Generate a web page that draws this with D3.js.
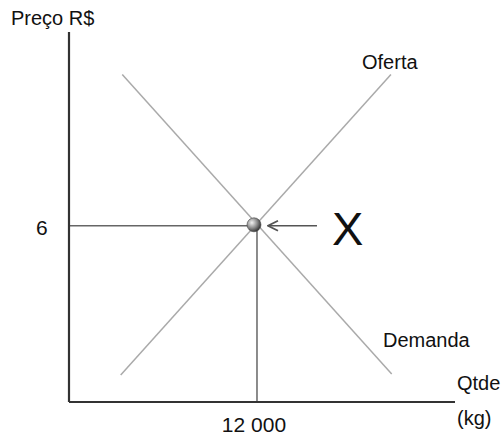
<!DOCTYPE html>
<html>
<head>
<meta charset="utf-8">
<script src="https://cdn.jsdelivr.net/npm/d3@7"></script>
<style>
  body { margin: 0; background: #fff; }
  text { font-family: "Liberation Sans", Arial, sans-serif; fill: #111; }
</style>
</head>
<body>
<svg width="504" height="436"></svg>
<script>
// curve end points, [quantity, price]
const oferta = [[3300, 0.92], [20550, 11.15]];
const demanda = [[3400, 11.15], [20600, 0.95]];
const equilibrio = { q: 12000, p: 6 };
const xTickLabels = ['12 000'];
const yTickLabels = ['6'];

const svg = d3.select('svg');

const x = d3.scaleLinear().domain([0, 24640]).range([69, 455]);
const y = d3.scaleLinear().domain([0, 12.6]).range([402, 32]);

const line = d3.line().x(d => x(d[0])).y(d => y(d[1]));

// gradient for the little ball
const defs = svg.append('defs');
const grad = defs.append('radialGradient').attr('id', 'ball')
  .attr('cx', '35%').attr('cy', '35%').attr('r', '65%');
grad.append('stop').attr('offset', '0%').attr('stop-color', '#f2f2f2');
grad.append('stop').attr('offset', '60%').attr('stop-color', '#8a8a8a');
grad.append('stop').attr('offset', '100%').attr('stop-color', '#3c3c3c');

defs.append('marker').attr('id', 'head')
  .attr('viewBox', '0 0 12 12').attr('refX', 11).attr('refY', 6)
  .attr('markerWidth', 12).attr('markerHeight', 12)
  .attr('markerUnits', 'userSpaceOnUse').attr('orient', 'auto')
  .append('path').attr('d', 'M1,1 L11,6 L1,11')
  .attr('fill', 'none').attr('stroke', '#555').attr('stroke-width', 1.8);

// supply / demand
svg.append('path').attr('d', line(oferta))
  .attr('stroke', '#aaa').attr('stroke-width', 1.5).attr('fill', 'none');
svg.append('path').attr('d', line(demanda))
  .attr('stroke', '#aaa').attr('stroke-width', 1.5).attr('fill', 'none');

// equilibrium guides
svg.append('line')
  .attr('x1', x(0)).attr('x2', x(equilibrio.q))
  .attr('y1', y(equilibrio.p)).attr('y2', y(equilibrio.p))
  .attr('stroke', '#666').attr('stroke-width', 1.5);
svg.append('line')
  .attr('x1', x(equilibrio.q)).attr('x2', x(equilibrio.q))
  .attr('y1', y(equilibrio.p)).attr('y2', y(0))
  .attr('stroke', '#666').attr('stroke-width', 1.5);

// axes
svg.append('line').attr('x1', x(0)).attr('x2', x(0))
  .attr('y1', y(12.6)).attr('y2', y(0))
  .attr('stroke', '#333').attr('stroke-width', 2.2);
svg.append('line').attr('x1', x(0)).attr('x2', x(24640))
  .attr('y1', y(0)).attr('y2', y(0))
  .attr('stroke', '#333').attr('stroke-width', 2.2);

// arrow + ball
svg.append('line')
  .attr('x1', x(equilibrio.q) + 60).attr('x2', x(equilibrio.q) + 11)
  .attr('y1', y(equilibrio.p)).attr('y2', y(equilibrio.p))
  .attr('stroke', '#555').attr('stroke-width', 1.5)
  .attr('marker-end', 'url(#head)');
svg.append('circle')
  .attr('cx', x(equilibrio.q) - 3).attr('cy', y(equilibrio.p) - 1).attr('r', 7)
  .attr('fill', 'url(#ball)').attr('stroke', '#444').attr('stroke-width', 0.6);

// labels
svg.append('text').attr('x', 11).attr('y', 25).attr('font-size', 20).text('Preço R$');
svg.selectAll('.ytick').data(yTickLabels).join('text')
  .attr('x', 36).attr('y', y(equilibrio.p) + 9).attr('font-size', 21).text(d => d);
svg.selectAll('.xtick').data(xTickLabels).join('text')
  .attr('x', x(equilibrio.q) - 3).attr('y', 432).attr('text-anchor', 'middle')
  .attr('font-size', 21).text(d => d);
svg.append('text').attr('x', 457).attr('y', 390).attr('font-size', 20).text('Qtde');
svg.append('text').attr('x', 457).attr('y', 425).attr('font-size', 20).text('(kg)');
svg.append('text').attr('x', 362).attr('y', 69).attr('font-size', 20).text('Oferta');
svg.append('text').attr('x', 383).attr('y', 347).attr('font-size', 20).text('Demanda');
svg.append('text').attr('x', 332).attr('y', 245).attr('font-size', 47).text('X');
</script>
</body>
</html>
